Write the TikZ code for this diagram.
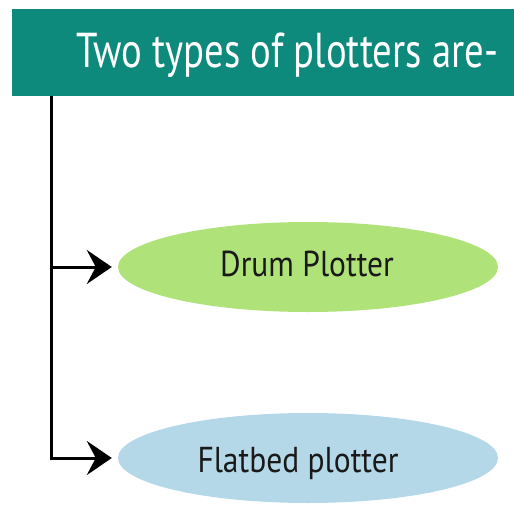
\documentclass[tikz,border=0pt]{standalone}
\usepackage{fontspec}
\setmainfont{PT Sans}
\newfontfamily\headfont[FakeStretch=0.79]{PT Sans}
\newfontfamily\kindfont[FakeStretch=0.875]{PT Sans}
\usetikzlibrary{shapes.geometric,arrows.meta}
\definecolor{headteal}{HTML}{0E8A7C}
\definecolor{drumgreen}{HTML}{B0E27A}
\definecolor{flatblue}{HTML}{B4D8E8}
\tikzset{
  title/.style={font=\headfont\fontsize{49}{55}\selectfont, text=white, inner sep=0pt, anchor=base},
  kind/.style={ellipse, minimum width=380pt, minimum height=90pt, inner sep=0pt},
  kindtext/.style={font=\kindfont\fontsize{36}{40}\selectfont, text=black!90, inner sep=0pt, anchor=base},
  branch/.style={line width=3pt, -{Stealth[length=25pt, width=34pt, inset=9pt]}, shorten >=6pt},
}
\begin{document}
\begin{tikzpicture}[x=1pt, y=-1pt]
  \useasboundingbox (0,0) rectangle (514,506);
  % header bar
  \fill[headteal] (12,9) rectangle (514,96);
  \node[title] (head) at (287.5,67) {Two types of plotters are-};
  % the two plotter kinds
  \node[kind, fill=drumgreen] (drum) at (308,267) {};
  \node[kindtext] (drumtext) at (307,276) {Drum Plotter};
  \node[kind, fill=flatblue] (flat) at (308,458) {};
  \node[kindtext] (flattext) at (298,472) {Flatbed plotter};
  % trunk and branches
  \coordinate (trunk) at (51,96);
  \draw[branch] (trunk) |- (drum.west);
  \draw[branch] (trunk) |- (flat.west);
\end{tikzpicture}
\end{document}
